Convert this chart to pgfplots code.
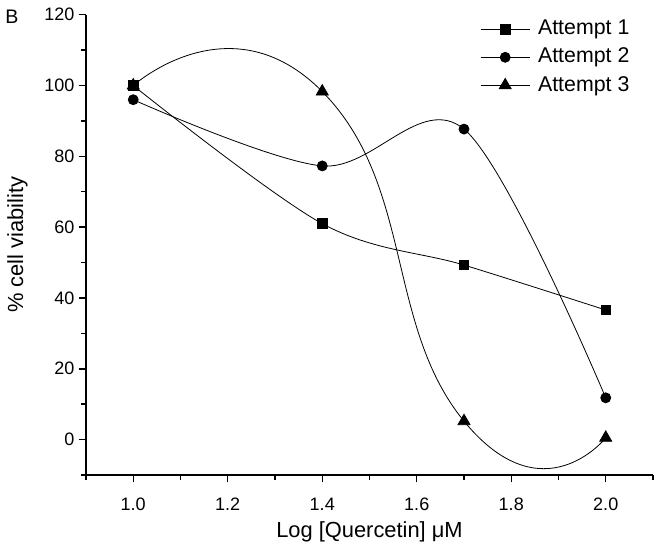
\documentclass[border=0pt]{standalone}
\usepackage{fontspec}
\setmainfont{Liberation Sans}
\usepackage{pgfplots}
\pgfplotsset{compat=1.18}
\begin{document}
\begin{tikzpicture}
\path[use as bounding box] (-64.5pt,-57pt) rectangle (431.25pt,356.25pt);
\node[font=\fontsize{14.7}{17}\selectfont, anchor=center] at (-55.5pt,343.5pt) {B};
\begin{axis}[
  at={(0,0)}, anchor=south west,
  scale only axis,
  width=425.25pt, height=345.2pt,
  xmin=0.9, xmax=2.1, ymin=-10, ymax=120,
  axis x line*=bottom, axis y line*=left,
  axis line style={line width=1.1pt, -},
  every tick/.style={line width=1.1pt, black},
  tick align=outside,
  major tick length=5.5pt, minor tick length=3.5pt,
  xtick={1.0,1.2,1.4,1.6,1.8,2.0},
  minor xtick={0.9,1.1,1.3,1.5,1.7,1.9,2.1},
  ytick={0,20,40,60,80,100,120},
  minor ytick={-10,10,30,50,70,90,110},
  /pgf/number format/assume math mode=true,
  xticklabel style={/pgf/number format/.cd, fixed, fixed zerofill, precision=1, /tikz/.cd},
  ticklabel style={font=\fontsize{13.5}{16}\selectfont},
  xticklabel style={anchor=base, inner sep=0pt, yshift=-21pt},
  yticklabel style={anchor=east, inner sep=0pt, xshift=-3pt},
  xlabel={Log [Quercetin] μM},
  ylabel={\% cell viability},
  label style={font=\fontsize{16.4}{19}\selectfont},
  xlabel style={at={(axis description cs:0.5,-0.1347)}, anchor=base},
  ylabel style={at={(axis description cs:-0.1208,0.5)}, anchor=center, rotate=0},
  legend cell align=left,
  legend style={at={(axis description cs:0.6949,0.9915)}, anchor=north west,
    draw=none, fill=none, inner sep=0pt, row sep=5.55pt,
    font=\fontsize{16}{19}\selectfont,
    nodes={inner xsep=6pt, inner ysep=0pt, text height=12pt, text depth=3.5pt}},
  legend image code/.code={
    \draw[mark repeat=2, mark phase=2] plot coordinates {(0pt,0pt) (18.4pt,0pt) (36.75pt,0pt)};},
]
\addplot[black, line width=0.6pt, smooth, tension=0.55, mark=square*, mark size=3.6pt, mark options={solid, fill=black}]
  coordinates {(1.0,100) (1.4,61) (1.7,49.3) (2.0,36.6)};
\addlegendentry{Attempt 1}
\addplot[black, line width=0.6pt, smooth, tension=0.55, mark=*, mark size=3.75pt, mark options={solid, fill=black}]
  coordinates {(1.0,96) (1.4,77.3) (1.7,87.7) (2.0,11.8)};
\addlegendentry{Attempt 2}
\addplot[black, line width=0.6pt, smooth, tension=1.0, mark=triangle*, mark size=5.2pt, mark options={solid, fill=black}]
  coordinates {(1.0,100) (1.4,98.3) (1.7,5.2) (2.0,0.5)};
\addlegendentry{Attempt 3}
\end{axis}
\end{tikzpicture}
\end{document}
